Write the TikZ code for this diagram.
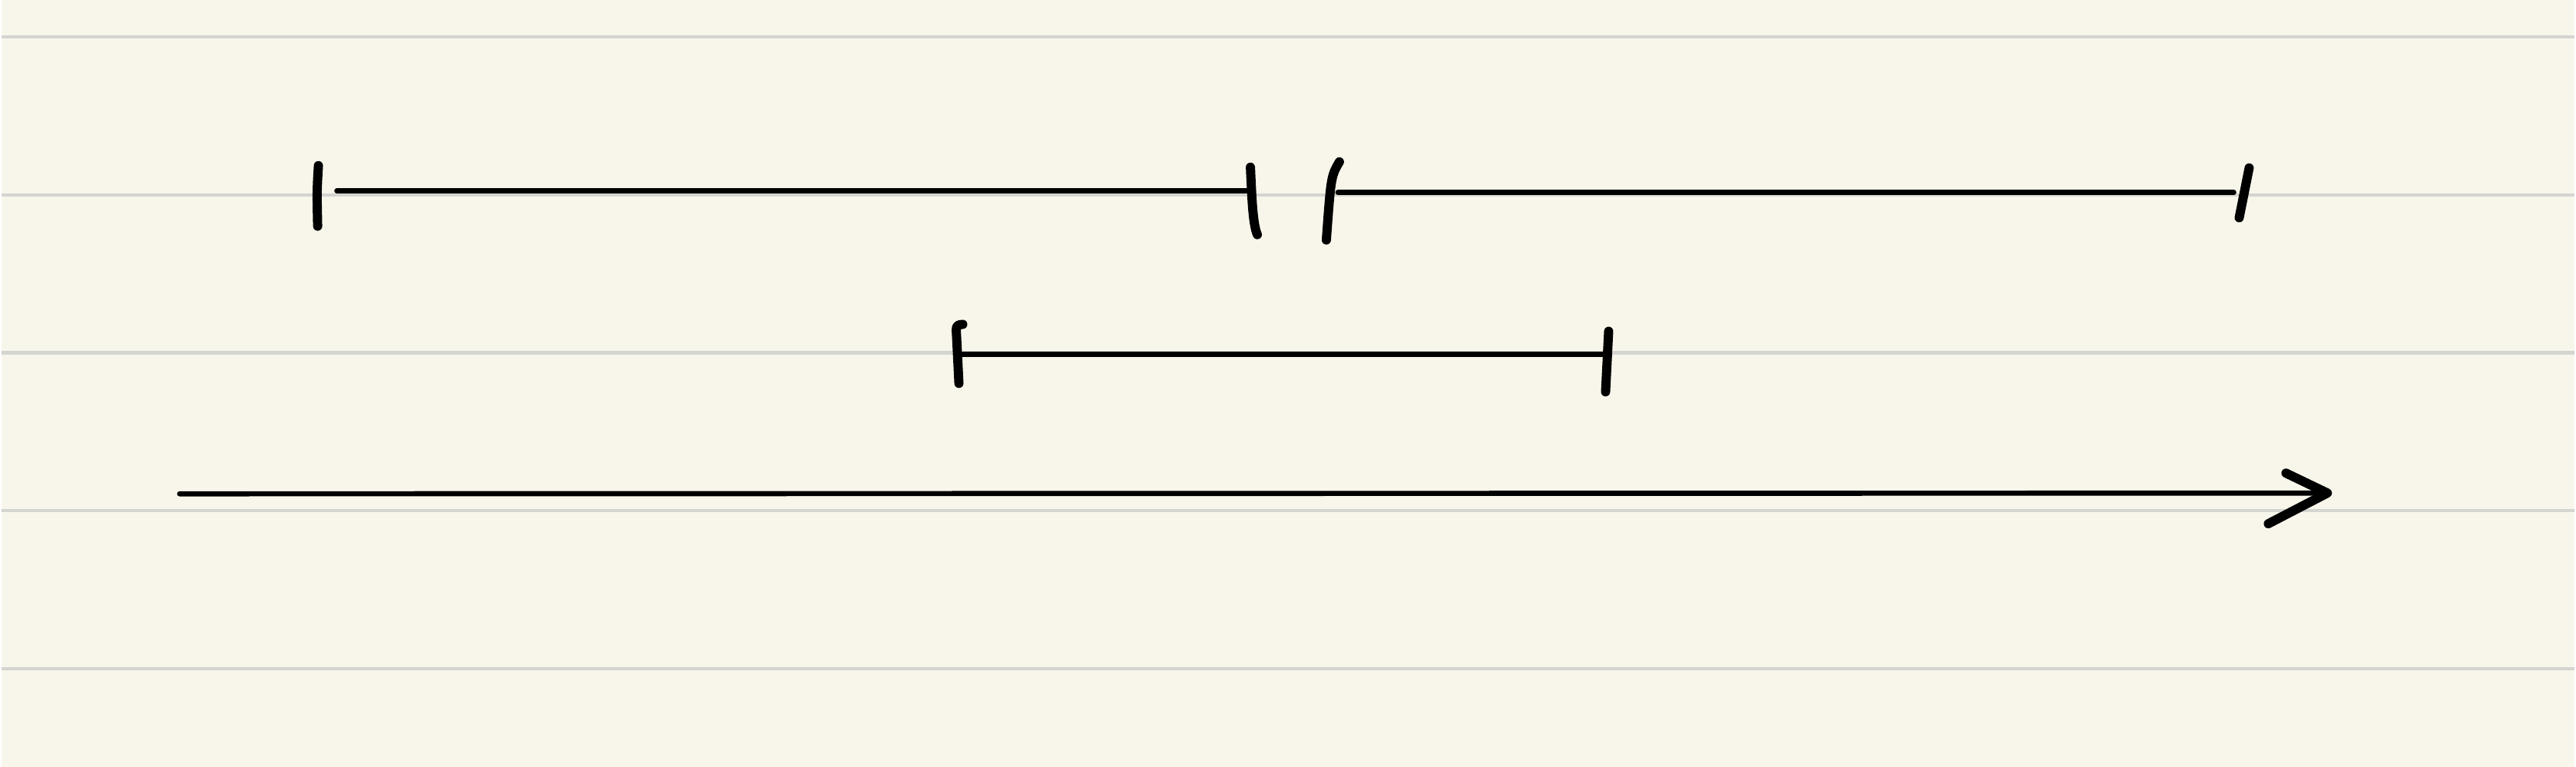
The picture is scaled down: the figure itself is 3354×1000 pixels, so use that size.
\documentclass[tikz,border=0pt]{standalone}
\usetikzlibrary{positioning}
\definecolor{paperbg}{RGB}{248,246,235}
\definecolor{ruleline}{RGB}{212,212,208}
\tikzset{seg/.style={line width=1.9pt,line cap=round},
  tickmark/.style={line width=3.4pt,line cap=round,line join=round}}

\begin{document}
\begin{tikzpicture}[x=.01cm,y=-.01cm]
    \fill[paperbg] (0,0) rectangle (3354,1000);
    \foreach \y in {48,254,460,666,872}{\draw[ruleline,line width=1.2pt] (0,\y) -- (3354,\y);}
    \coordinate (s1a) at (437,249); \coordinate (s1b) at (1628,249);
    \coordinate (s2a) at (1742,251); \coordinate (s2b) at (2910,251);
    \coordinate (s3a) at (1250,462); \coordinate (s3b) at (2093,462);
    \coordinate (axa) at (232,644); \coordinate (axb) at (3032,643);
    \draw[seg] (s1a) -- (s1b); \draw[seg] (s2a) -- (s2b); \draw[seg] (s3a) -- (s3b);
    \draw[seg] (axa) -- (axb);
    \draw[tickmark] (2978,617) -- (axb) -- (2955,683);
    \draw[tickmark] (413,216) .. controls (411,250) .. (412,295);
    \draw[tickmark] (1628,218) .. controls (1630,260) and (1631,292) .. (1637,306);
    \draw[tickmark] (1744,211) .. controls (1733,230) .. (1727,313);
    \draw[tickmark] (2930,219) -- (2917,284);
    \draw[tickmark] (1253,423) .. controls (1244,424) .. (1245,440) -- (1248,500);
    \draw[tickmark] (2095,432) -- (2091,511);
  \end{tikzpicture}
\end{document}
